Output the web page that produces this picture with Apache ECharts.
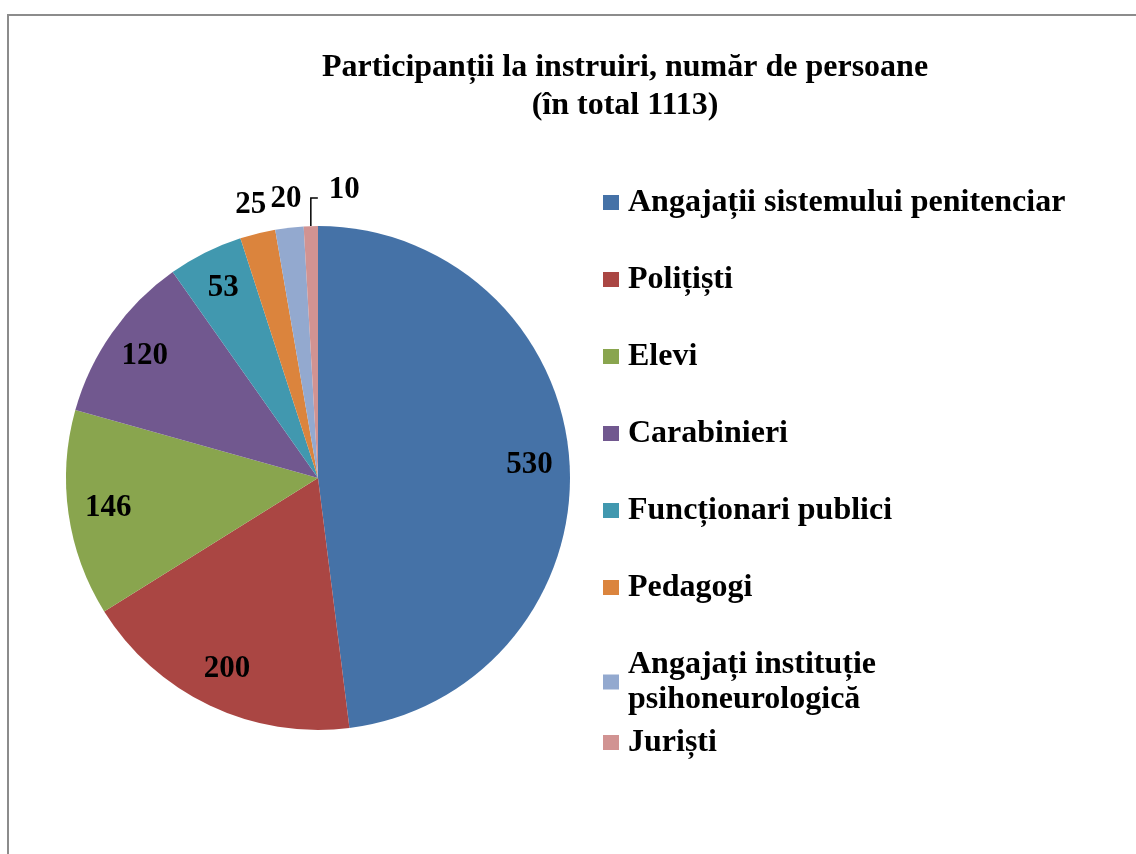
<!DOCTYPE html>
<html>
<head>
<meta charset="utf-8">
<script src="https://cdn.jsdelivr.net/npm/echarts@6/dist/echarts.min.js"></script>
<style>
  html, body { margin: 0; padding: 0; background: #fff; overflow: hidden; }
  #frame {
    position: absolute; left: 7px; top: 14px; width: 1300px; height: 1000px;
    border-left: 2px solid #8c8c8c; border-top: 2px solid #8c8c8c;
  }
  #chart { position: absolute; left: 0; top: 0; width: 1136px; height: 854px; }
</style>
</head>
<body>
<div id="frame"></div>
<div id="chart"></div>
<script>
const categories = [
  'Angajații sistemului penitenciar',
  'Polițiști',
  'Elevi',
  'Carabinieri',
  'Funcționari publici',
  'Pedagogi',
  'Angajați instituție\npsihoneurologică',
  'Juriști'
]
const values = [530, 200, 146, 120, 53, 25, 20, 10]
const colors = ['#4572A7', '#AA4643', '#89A54E', '#71588F', '#4198AF', '#DB843D', '#93A9CF', '#D19392']
// which labels sit inside the pie, which ones just outside, and which one uses a leader line
const innerLabels = [0, 1, 2, 3, 4]
const outerLabels = [5, 6]
const leaderLabel = 7

const fontFamily = '"Liberation Serif", "Times New Roman", serif'
const center = [318, 478]
const R = 252

const chart = echarts.init(document.getElementById('chart'))

const labelText = { color: '#000', fontFamily, fontWeight: 'bold', fontSize: 31, formatter: '{c}' }
const clear = 'rgba(0,0,0,0)'

const legendText = { fontFamily, fontWeight: 'bold', fontSize: 32, lineHeight: 35, color: '#000', padding: [0, 0, 0, 4] }
const legendBase = {
  orient: 'vertical',
  left: 603,
  padding: 0,
  icon: 'rect',
  itemWidth: 16,
  itemHeight: 15,
  itemGap: 42,
  selectedMode: false,
  textStyle: legendText
}

const option = {
  animation: false,
  title: {
    text: 'Participanții la instruiri, număr de persoane\n(în total 1113)',
    left: 620,
    top: 44,
    textAlign: 'center',
    textStyle: { fontFamily, fontWeight: 'bold', fontSize: 32, lineHeight: 38, color: '#000' }
  },
  // the last entry is kept apart so the two-line item above it does not push it down
  legend: [
    Object.assign({}, legendBase, { top: 185, data: categories.slice(0, 7) }),
    Object.assign({}, legendBase, { top: 725, data: categories.slice(7) })
  ],
  series: [
    {
      name: 'pie',
      type: 'pie',
      center,
      radius: [0, R],
      startAngle: 90,
      clockwise: true,
      silent: true,
      itemStyle: { borderWidth: 0 },
      label: { show: false },
      labelLine: { show: false },
      labelLayout: function (params) {
        if (params.dataIndex !== leaderLabel || !params.labelLinePoints) return {}
        const p = params.labelLinePoints[0]
        return {
          x: p[0] + 18,
          y: p[1] - 36,
          align: 'left',
          verticalAlign: 'middle',
          labelLinePoints: [[p[0], p[1]], [p[0], p[1] - 28], [p[0] + 7, p[1] - 28]]
        }
      },
      data: values.map((v, i) => {
        const item = { name: categories[i], value: v, itemStyle: { color: colors[i] } }
        if (i === leaderLabel) {
          item.label = Object.assign({ show: true, position: 'outside' }, labelText)
          item.labelLine = { show: true, length: 20, length2: 6, lineStyle: { color: '#000', width: 1.5 } }
        }
        return item
      })
    },
    {
      name: 'inner labels',
      type: 'pie',
      center,
      radius: [166, R],
      silent: true,
      itemStyle: { color: clear },
      label: Object.assign({ position: 'inside' }, labelText),
      labelLine: { show: false },
      data: values.map((v, i) => ({
        name: categories[i], value: v,
        label: { show: innerLabels.includes(i) }
      }))
    },
    {
      name: 'outer labels',
      type: 'pie',
      center,
      radius: [R, 304],
      silent: true,
      itemStyle: { color: clear },
      label: Object.assign({ position: 'inside' }, labelText),
      labelLine: { show: false },
      data: values.map((v, i) => ({
        name: categories[i], value: v,
        label: { show: outerLabels.includes(i) }
      }))
    }
  ]
}

chart.setOption(option)
</script>
</body>
</html>
